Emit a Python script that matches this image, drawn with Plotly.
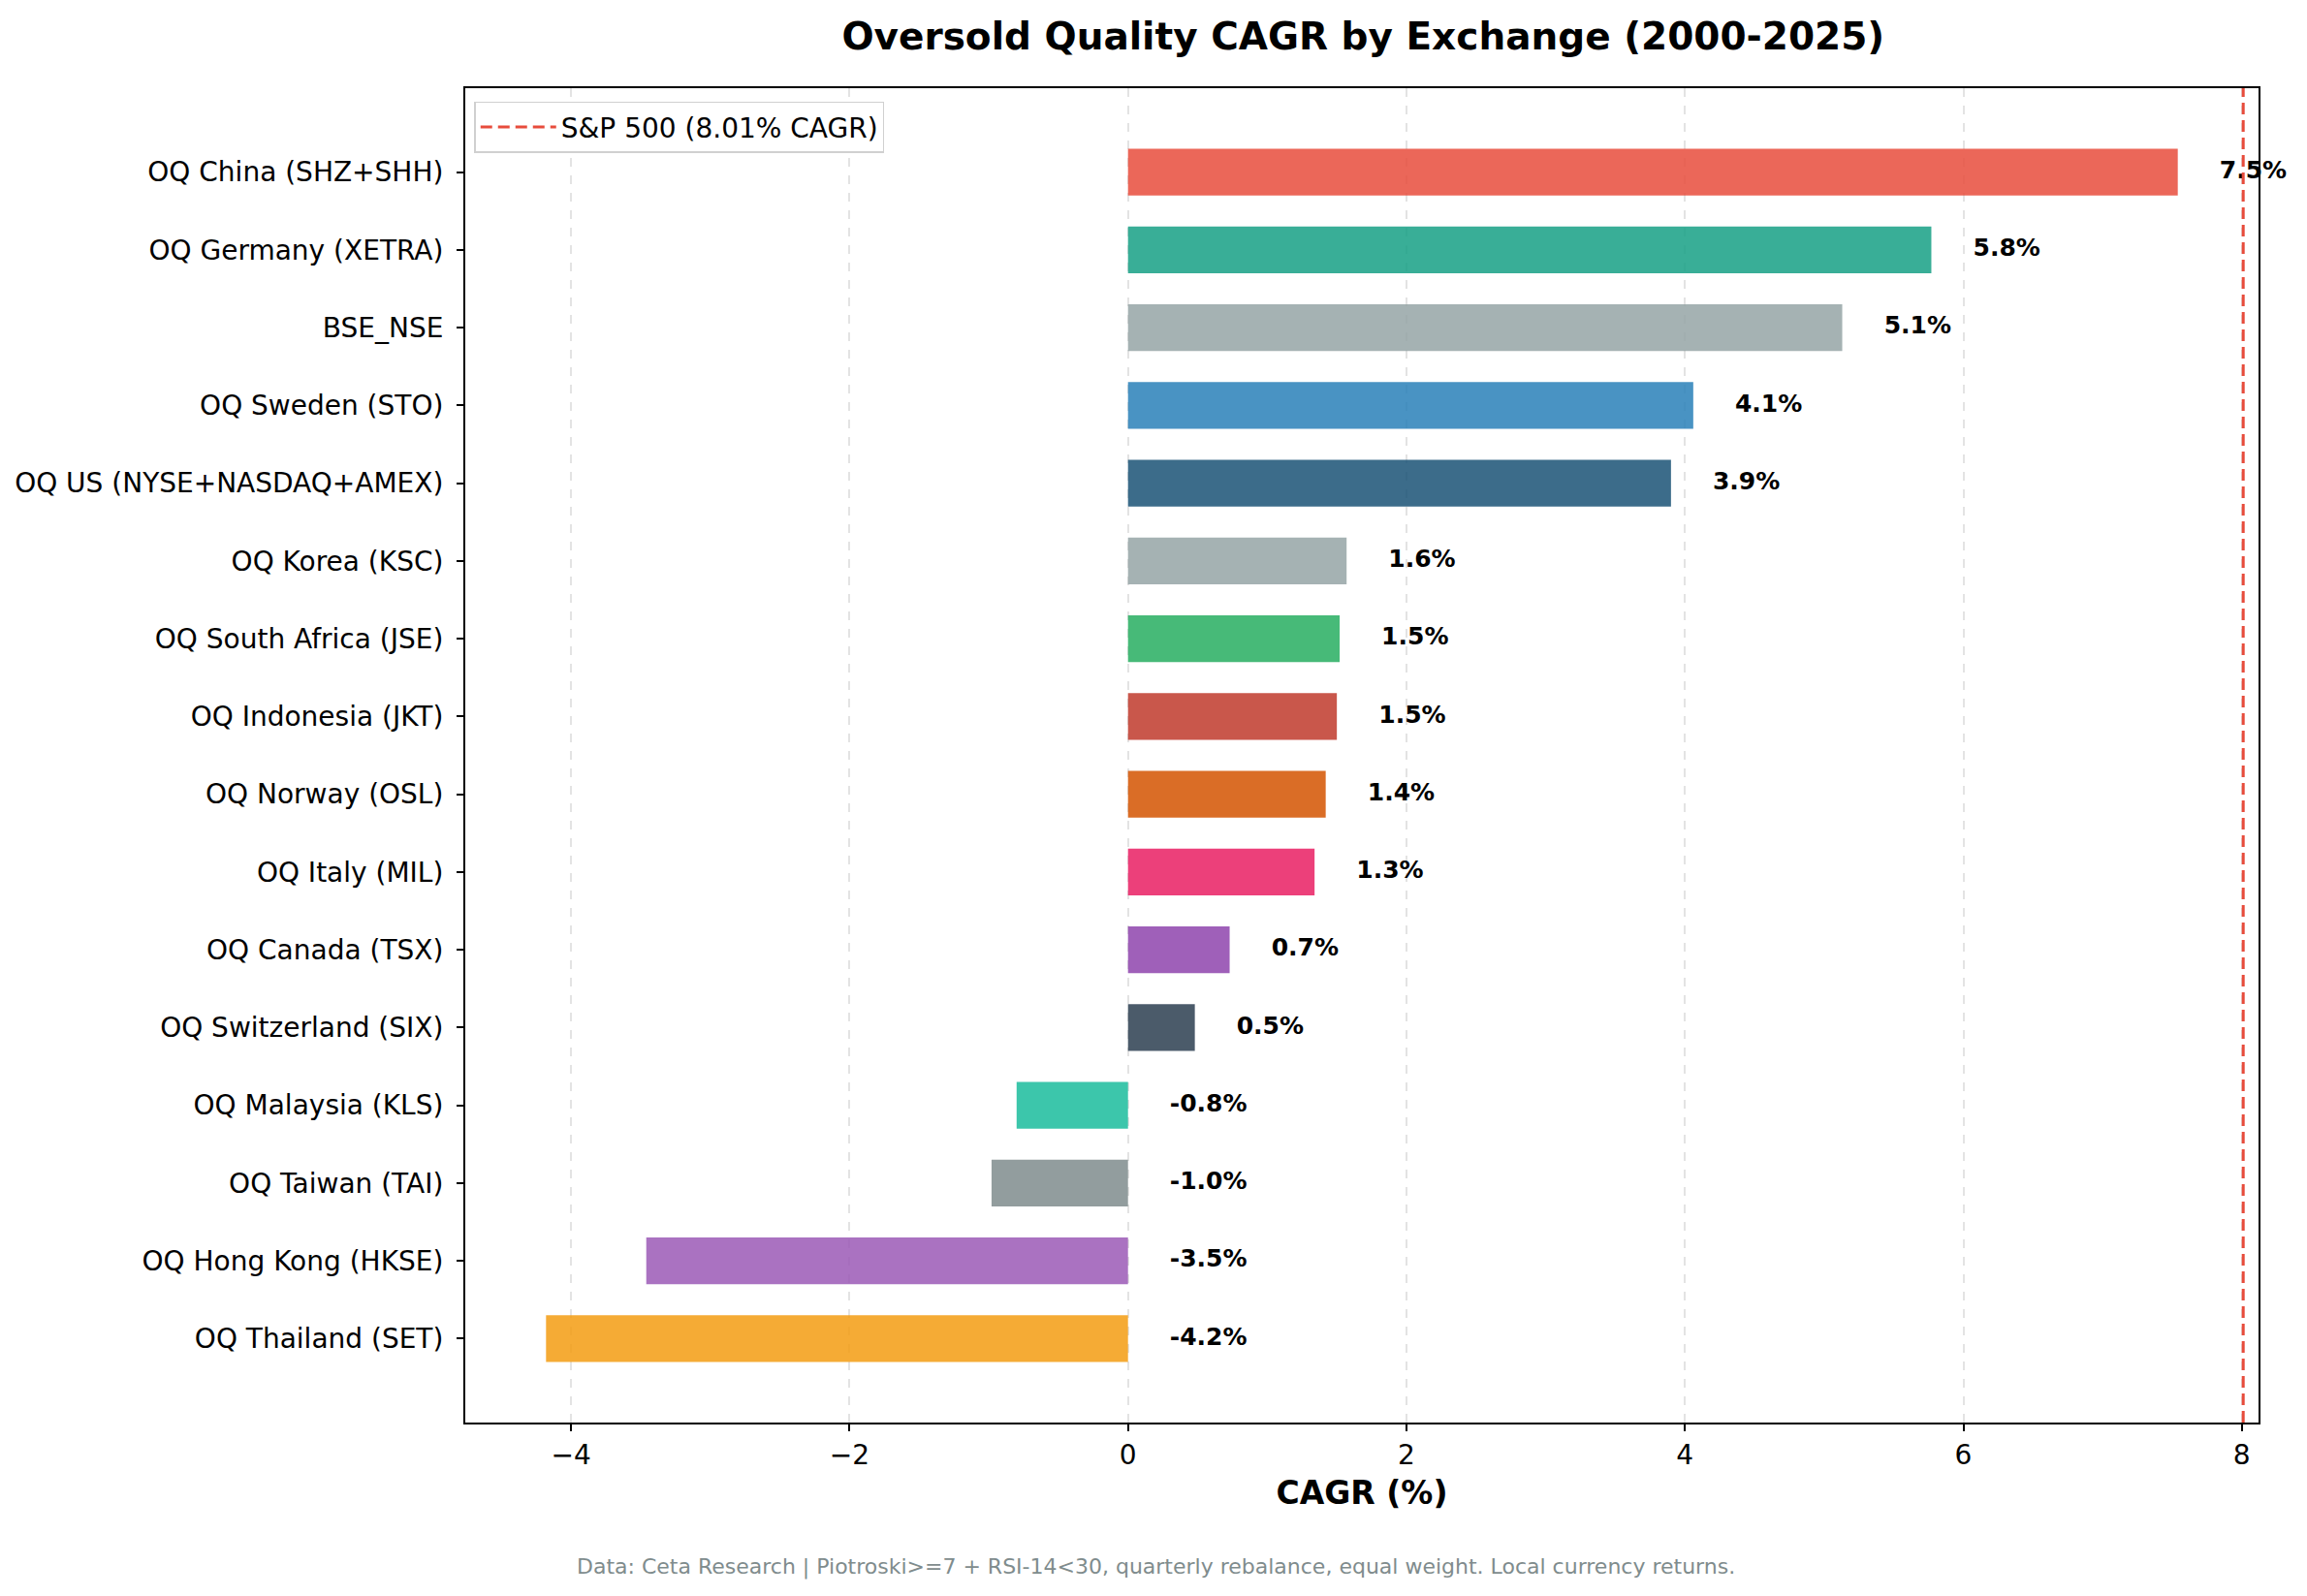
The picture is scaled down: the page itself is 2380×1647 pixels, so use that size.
import plotly.graph_objects as go

# bottom-to-top order (matplotlib barh draws first item at the bottom)
exchanges = [
    "OQ Thailand (SET)", "OQ Hong Kong (HKSE)", "OQ Taiwan (TAI)", "OQ Malaysia (KLS)",
    "OQ Switzerland (SIX)", "OQ Canada (TSX)", "OQ Italy (MIL)", "OQ Norway (OSL)",
    "OQ Indonesia (JKT)", "OQ South Africa (JSE)", "OQ Korea (KSC)",
    "OQ US (NYSE+NASDAQ+AMEX)", "OQ Sweden (STO)", "BSE_NSE", "OQ Germany (XETRA)",
    "OQ China (SHZ+SHH)",
]
cagr = [-4.18, -3.46, -0.98, -0.80, 0.48, 0.73, 1.34, 1.42,
        1.50, 1.52, 1.57, 3.90, 4.06, 5.13, 5.77, 7.54]
bar_colors = ["#f39c12", "#9b59b6", "#7f8c8d", "#1abc9c", "#2c3e50", "#8e44ad",
              "#e91e63", "#d35400", "#c0392b", "#27ae60", "#95a5a6", "#1a5276",
              "#2980b9", "#95a5a6", "#16a085", "#e74c3c"]
spy_cagr = 8.01

FONT = "DejaVu Sans"

fig = go.Figure()
fig.add_trace(go.Bar(
    x=cagr, y=exchanges, orientation="h", width=0.6,
    marker=dict(color=bar_colors, opacity=0.85, line=dict(width=0)),
    showlegend=False,
))
# value labels to the right of each bar (or right of zero for negatives)
fig.add_trace(go.Scatter(
    x=[max(v, 0) + 0.3 for v in cagr], y=exchanges, mode="text",
    text=[f"{v:.1f}%" for v in cagr], textposition="middle right",
    textfont=dict(family=FONT, size=25, color="black", weight="bold"),
    showlegend=False, cliponaxis=False,
))
# benchmark line
fig.add_trace(go.Scatter(
    x=[spy_cagr, spy_cagr], y=[0, 1], yaxis="y2", mode="lines",
    line=dict(color="#e74c3c", width=3, dash="12px,6px"),
    name=f"S&P 500 ({spy_cagr:.2f}% CAGR)",
))

fig.update_layout(
    width=2380, height=1647,
    margin=dict(l=472, r=58, t=83, b=187),
    plot_bgcolor="white", paper_bgcolor="white",
    font=dict(family=FONT, size=28, color="black"),
    title=dict(text="<b>Oversold Quality CAGR by Exchange (2000-2025)</b>",
               x=0.5875, xanchor="center", y=0.982, yanchor="middle",
               font=dict(size=39, color="black")),
    xaxis=dict(
        range=[-4.76, 8.12], dtick=2, tickfont=dict(size=28),
        showgrid=True, gridcolor="rgba(176,176,176,0.35)", griddash="dash", gridwidth=1.5,
        zeroline=False, showline=True, mirror=True, linecolor="black", linewidth=2,
        ticks="outside", ticklen=7, tickwidth=1.5, tickcolor="black",
        title=dict(text="<b>CAGR (%)</b>", font=dict(size=33), standoff=12),
    ),
    yaxis=dict(
        range=[-1.08, 16.08], tickfont=dict(size=28), ticklabelstandoff=8,
        automargin=False,
        showgrid=False, zeroline=False, showline=True, mirror=True,
        linecolor="black", linewidth=2,
        ticks="outside", ticklen=7, tickwidth=1.5, tickcolor="black",
    ),
    yaxis2=dict(overlaying="y", range=[0, 1], visible=False),
    legend=dict(x=0.005, y=0.99, xanchor="left", yanchor="top",
                bgcolor="white", bordercolor="#d0d0d0", borderwidth=1.5,
                itemwidth=78, font=dict(size=28)),
    annotations=[dict(
        text="Data: Ceta Research | Piotroski>=7 + RSI-14<30, quarterly rebalance, equal weight. Local currency returns.",
        xref="paper", yref="paper", x=0.385, y=-0.108, xanchor="center", yanchor="middle",
        showarrow=False, font=dict(size=22, color="#7f8c8d"),
    )],
)

fig.write_html("out.html")
